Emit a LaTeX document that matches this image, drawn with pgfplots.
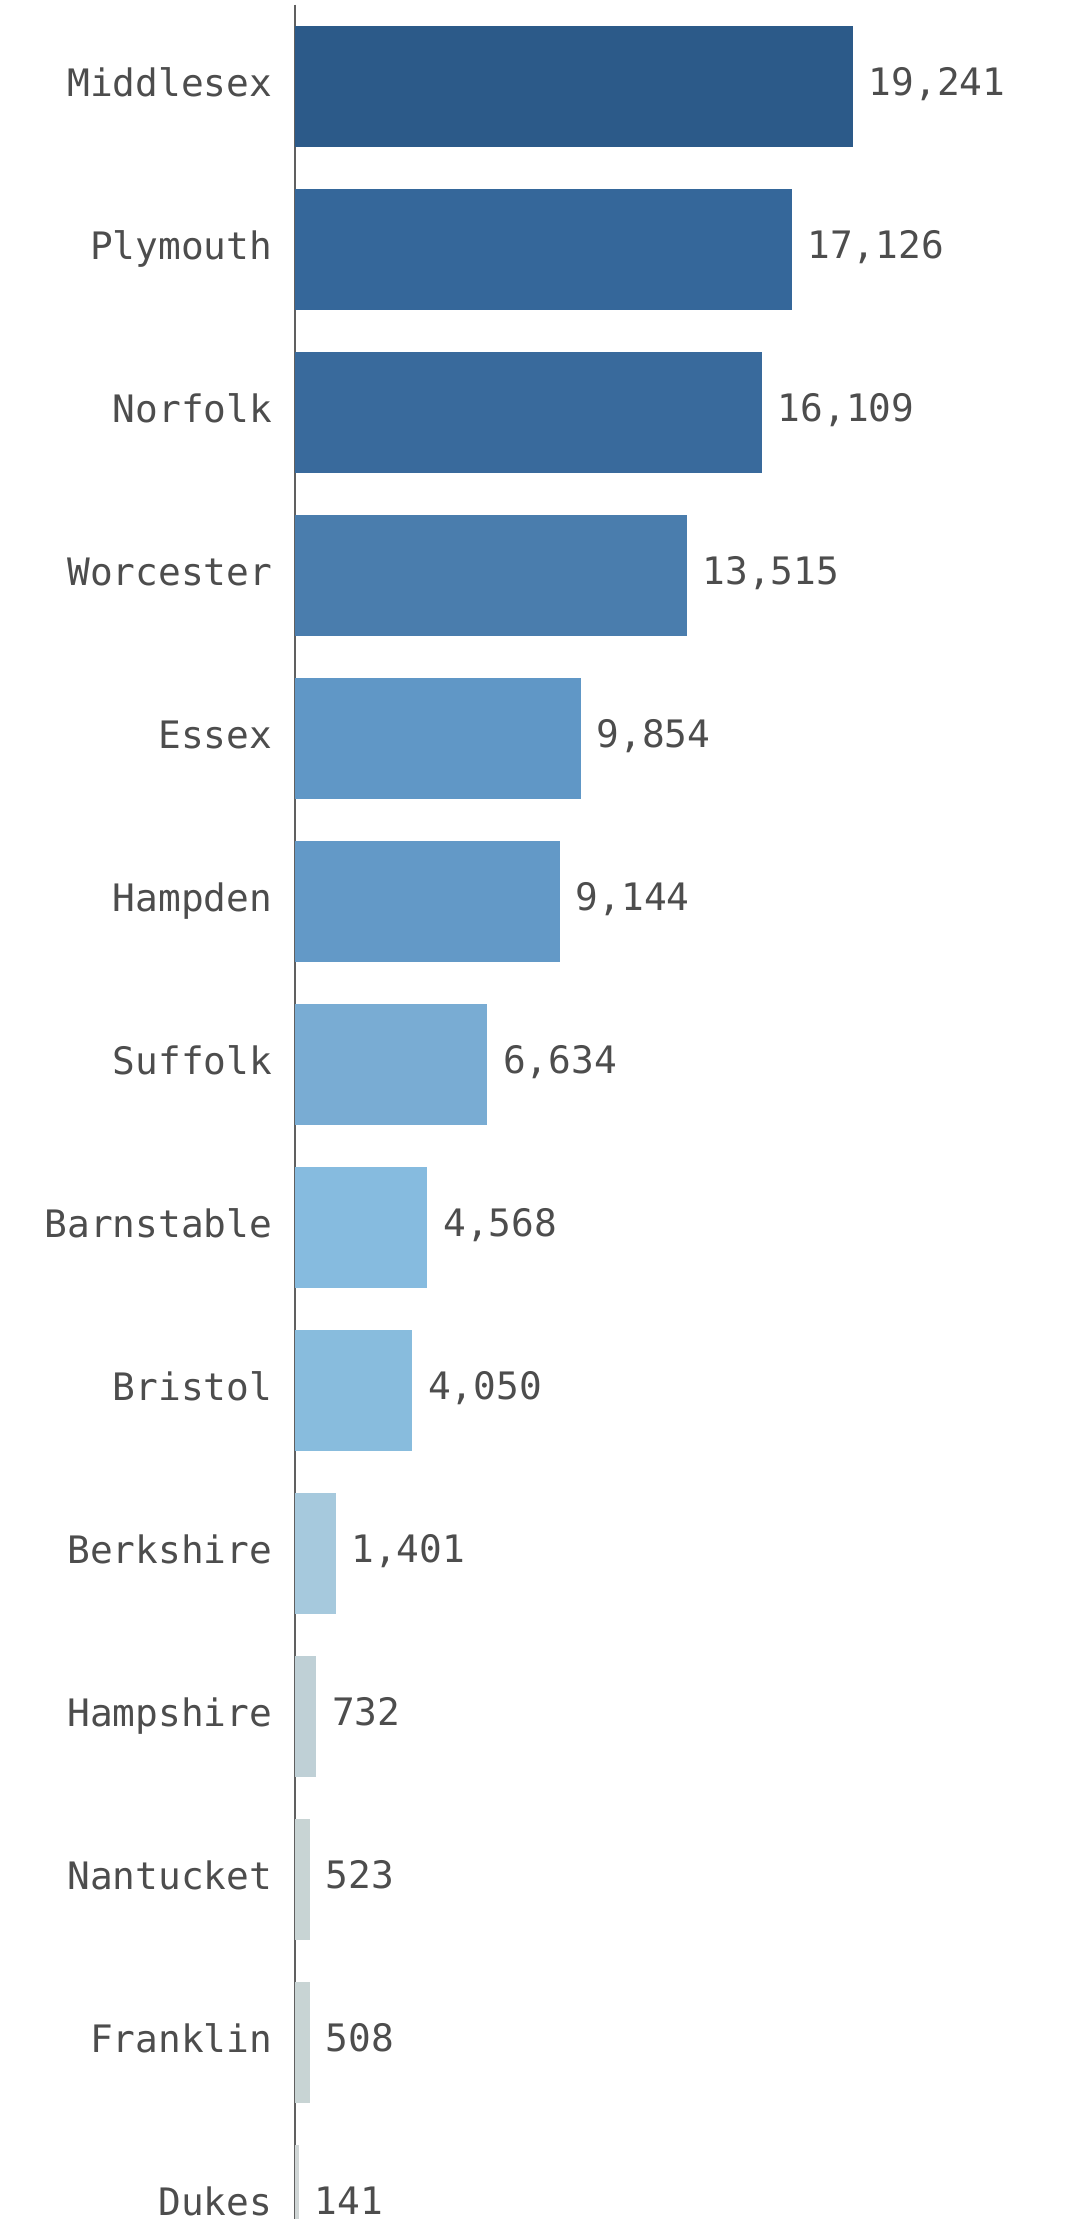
\documentclass[border=0pt]{standalone}
\usepackage{pgfplots}
\pgfplotsset{compat=1.18}
\usepackage{fontspec}
\newfontfamily\monofont{DejaVu Sans Mono}
\definecolor{txt}{HTML}{4D4D4D}
\definecolor{axl}{HTML}{606060}
\definecolor{c1}{HTML}{2C5A89}
\definecolor{c2}{HTML}{35679A}
\definecolor{c3}{HTML}{396A9C}
\definecolor{c4}{HTML}{4A7DAD}
\definecolor{c5}{HTML}{6097C6}
\definecolor{c6}{HTML}{6399C7}
\definecolor{c7}{HTML}{79ACD3}
\definecolor{c8}{HTML}{86BBDF}
\definecolor{c9}{HTML}{88BCDD}
\definecolor{c10}{HTML}{A6C9DD}
\definecolor{c11}{HTML}{BFD0D6}
\definecolor{c12}{HTML}{C8D4D4}
\definecolor{c13}{HTML}{C8D4D4}
\definecolor{c14}{HTML}{D0D6D6}
\begin{document}
\begin{tikzpicture}
\begin{axis}[
  at={(0,0)}, anchor=south west,
  scale only axis, width=145pt, height=570.5pt,
  xmin=0, xmax=20000,
  ymin=-0.5, ymax=13.5, y dir=reverse,
  axis x line=none,
  axis y line*=left,
  y axis line style={-, draw=axl, line width=0.35pt},
  ytick={0,...,13},
  yticklabels={Middlesex,Plymouth,Norfolk,Worcester,Essex,Hampden,Suffolk,Barnstable,Bristol,Berkshire,Hampshire,Nantucket,Franklin,Dukes},
  ytick style={draw=none},
  major tick length=0pt,
  yticklabel style={font=\monofont\fontsize{9.45}{11}\selectfont, text=txt, inner sep=0pt, anchor=base east, xshift=-5.5pt, yshift=-2.7pt},
  xbar, bar width=30.25pt, bar shift=0pt,
  point meta=x,
  nodes near coords={\pgfmathprintnumber[fixed, precision=0, 1000 sep={,}, assume math mode=true]{\pgfplotspointmeta}},
  every node near coord/.append style={anchor=base west, inner sep=0pt, xshift=3.75pt, yshift=-2.45pt, font=\monofont\fontsize{9.45}{11}\selectfont, text=txt},
  clip=false,
]
\addplot[draw=none, fill=c1] coordinates {(19241,0)};
\addplot[draw=none, fill=c2] coordinates {(17126,1)};
\addplot[draw=none, fill=c3] coordinates {(16109,2)};
\addplot[draw=none, fill=c4] coordinates {(13515,3)};
\addplot[draw=none, fill=c5] coordinates {(9854,4)};
\addplot[draw=none, fill=c6] coordinates {(9144,5)};
\addplot[draw=none, fill=c7] coordinates {(6634,6)};
\addplot[draw=none, fill=c8] coordinates {(4568,7)};
\addplot[draw=none, fill=c9] coordinates {(4050,8)};
\addplot[draw=none, fill=c10] coordinates {(1401,9)};
\addplot[draw=none, fill=c11] coordinates {(732,10)};
\addplot[draw=none, fill=c12] coordinates {(523,11)};
\addplot[draw=none, fill=c13] coordinates {(508,12)};
\addplot[draw=none, fill=c14] coordinates {(141,13)};
\end{axis}
\pgfresetboundingbox
\useasboundingbox (-73.75pt,16.875pt) rectangle (192.75pt,571.625pt);
\end{tikzpicture}
\end{document}
